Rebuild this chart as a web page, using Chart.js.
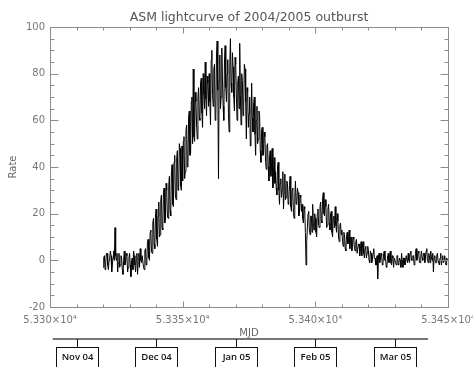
<!DOCTYPE html>
<html>
<head>
<meta charset="utf-8">
<script src="https://cdn.jsdelivr.net/npm/chart.js@4"></script>
<style>
  html, body { margin: 0; padding: 0; background: #fff; }
  #wrap { width: 473px; height: 367px; position: relative; }
</style>
</head>
<body>
<div id="wrap"><canvas id="lc"></canvas></div>
<script>
// ASM 광도곡선 데이터 (0.25일 간격, MJD 53320부터, 한 줄 = 5일)
const mjdStart = 53320;
const mjdStep = 0.25;
const rate = [
  -3, 1, 2, -4, -1, 3, 3, -2, -4, 0, 1, 4, 2, -5, -2, 1, 4, 0, 14, 2,
  0, 3, -5, -1, 3, -3, -2, 2, 1, -4, -6, 0, 4, -2, -1, 3, 2, -5, -3, 1,
  3, -2, -7, 0, 1, -4, 4, 2, -2, -5, 0, 3, -6, -1, 3, -3, 5, 0, -1, 2,
  2, -3, -4, 4, 5, -2, 0, 8, 9, 1, 0, 12, 13, 4, 3, 16, 18, 7, 5, 19,
  22, 9, 6, 19, 25, 10, 11, 26, 28, 14, 13, 29, 31, 16, 17, 33, 30, 19, 18, 32,
  36, 21, 19, 37, 41, 24, 23, 42, 45, 28, 26, 44, 47, 30, 31, 50, 48, 32, 30, 49,
  34, 51, 53, 35, 38, 56, 58, 40, 42, 62, 64, 45, 46, 68, 70, 50, 82, 53, 51, 72,
  68, 58, 52, 70, 74, 61, 60, 76, 78, 63, 57, 80, 71, 65, 85, 69, 62, 79, 76, 66,
  80, 68, 58, 86, 90, 71, 66, 82, 84, 60, 62, 88, 94, 73, 35, 77, 88, 65, 70, 91,
  78, 66, 60, 85, 92, 74, 68, 80, 86, 63, 55, 83, 95, 76, 72, 89, 83, 70, 64, 87,
  84, 70, 60, 76, 79, 65, 93, 71, 58, 80, 77, 62, 66, 84, 82, 68, 52, 74, 72, 57,
  63, 70, 49, 58, 76, 61, 55, 67, 70, 54, 45, 60, 66, 50, 52, 64, 62, 47, 42, 56,
  57, 45, 46, 55, 53, 42, 39, 49, 50, 40, 34, 45, 47, 36, 41, 48, 31, 38, 44, 33,
  38, 31, 28, 40, 42, 30, 24, 33, 35, 27, 30, 38, 22, 29, 37, 26, 27, 34, 33, 24,
  26, 32, 36, 23, 21, 30, 31, 20, 18, 27, 34, 24, 25, 31, 29, 19, 20, 28, 27, 21,
  24, 18, 16, 23, 22, 12, -2, 8, 14, 20, 21, 13, 11, 19, 19, 12, 24, 16, 13, 20,
  18, 12, 10, 20, 22, 15, 14, 23, 25, 17, 16, 27, 29, 20, 19, 26, 23, 14, 15, 22,
  24, 16, 13, 20, 21, 12, 10, 18, 19, 14, 23, 15, 12, 20, 17, 10, 8, 15, 16, 11,
  13, 8, 6, 12, 11, 5, 4, 10, 12, 7, 8, 13, 5, 9, 10, 4, 6, 10, 9, 5,
  4, 8, 9, 3, 3, 7, 7, 2, 5, 8, 2, 6, 8, 3, 1, 5, 6, 1, 3, 6,
  4, 0, -1, 4, 3, -1, 0, 3, 5, 1, 1, -2, -2, 2, -8, 1, 3, -1, 0, 3,
  2, -2, -1, 3, 4, 0, 0, -3, -2, 2, 3, -1, 1, 4, -1, -2, 2, 1, -3, 1,
  1, -1, -2, 2, 2, -2, -1, 1, 0, -3, 3, 0, -3, 1, 1, -2, -1, 2, 2, -1,
  3, 0, -1, 3, 4, 0, 0, 2, 2, -2, -1, 3, 5, 0, 1, 4, 3, -1, -1, 2,
  4, 1, 0, 3, 3, -1, 1, 4, 5, 0, -1, 3, 2, -1, 4, 1, 0, 3, -5, 1,
  2, -1, -1, 2, 3, 0, 0, -2, 1, 3, -2, 0, 2, -1, 0, 2, -1, -2, 1, 0
];

// 축 범위 / 눈금
const xRange = [53300, 53450];
const yRange = [-20, 100];
const xMajor = 50, xMinor = 10;
const yMajor = 20, yMinor = 5;

// 아래 달력 막대
const monthLabels = ['Nov 04', 'Dec 04', 'Jan 05', 'Feb 05', 'Mar 05'];
const monthMJD = [53310, 53340, 53370, 53400, 53430];
const timelineRange = [53301, 53442.5];

const points = rate.map((r, i) => ({ x: mjdStart + i * mjdStep, y: r }));

function fmtMJD(v) {
  return (v / 10000).toFixed(3) + '×10⁴';
}

// 테두리, 안쪽 눈금, 제목, 달력 막대
const framePlugin = {
  id: 'frame',
  afterDraw(chart) {
    const { ctx, chartArea: a, scales: { x, y } } = chart;
    ctx.save();
    ctx.strokeStyle = '#8c8c8c';
    ctx.lineWidth = 1;
    const L = Math.round(a.left) + 0.5, R = Math.round(a.right) + 0.5;
    const T = Math.round(a.top) + 0.5, B = Math.round(a.bottom) + 0.5;
    ctx.strokeRect(L, T, R - L, B - T);

    ctx.beginPath();
    for (let v = xRange[0]; v <= xRange[1]; v += xMinor) {
      const px = Math.round(x.getPixelForValue(v)) + 0.5;
      const major = v % xMajor === 0;
      ctx.moveTo(px, B); ctx.lineTo(px, B - (major ? 6 : 3));
      ctx.moveTo(px, T); ctx.lineTo(px, T + (major ? 6 : 3));
    }
    for (let v = yRange[0]; v <= yRange[1]; v += yMinor) {
      const py = Math.round(y.getPixelForValue(v)) + 0.5;
      const major = v % yMajor === 0;
      ctx.moveTo(L, py); ctx.lineTo(L + (major ? 8 : 4), py);
      ctx.moveTo(R, py); ctx.lineTo(R - (major ? 8 : 4), py);
    }
    ctx.stroke();

    // 제목
    ctx.fillStyle = '#555';
    ctx.font = '12.5px "DejaVu Sans"';
    ctx.textAlign = 'center';
    ctx.textBaseline = 'alphabetic';
    ctx.fillText('ASM lightcurve of 2004/2005 outburst', (a.left + a.right) / 2, 21);

    // 축 이름
    ctx.font = '10px "DejaVu Sans"';
    ctx.fillStyle = '#666';
    ctx.textBaseline = 'middle';
    ctx.fillText('MJD', (a.left + a.right) / 2, 333);
    ctx.save();
    ctx.translate(13, 167);
    ctx.rotate(-Math.PI / 2);
    ctx.fillText('Rate', 0, 0);
    ctx.restore();

    // 달력 막대
    const ly = 339;
    ctx.strokeStyle = '#777';
    ctx.lineWidth = 2;
    ctx.beginPath();
    ctx.moveTo(x.getPixelForValue(timelineRange[0]), ly);
    ctx.lineTo(x.getPixelForValue(timelineRange[1]), ly);
    ctx.stroke();

    ctx.strokeStyle = '#111';
    ctx.lineWidth = 1;
    ctx.fillStyle = '#111';
    ctx.font = '600 9.5px "Open Sans"';
    monthMJD.forEach((m, i) => {
      const px = Math.round(x.getPixelForValue(m)) + 0.5;
      ctx.beginPath();
      ctx.moveTo(px, ly); ctx.lineTo(px, 347.5);
      ctx.stroke();
      ctx.strokeRect(px - 21, 347.5, 42, 30);
      ctx.fillText(monthLabels[i], px, 357.5);
    });
    ctx.restore();
  }
};

new Chart(document.getElementById('lc'), {
  type: 'line',
  data: {
    datasets: [{
      data: points,
      borderColor: '#000',
      borderWidth: 1,
      pointRadius: 0,
      tension: 0,
      fill: false
    }]
  },
  options: {
    responsive: true,
    maintainAspectRatio: false,
    animation: false,
    layout: { padding: { top: 27, right: 25, left: 0, bottom: 0 } },
    plugins: { legend: { display: false }, tooltip: { enabled: false } },
    scales: {
      x: {
        type: 'linear',
        min: xRange[0],
        max: xRange[1],
        grid: { display: false, drawTicks: false },
        border: { display: false },
        ticks: {
          stepSize: xMajor,
          padding: 7,
          maxRotation: 0,
          color: '#777',
          font: { family: 'DejaVu Sans', size: 10 },
          callback: v => fmtMJD(v)
        },
        afterFit: s => { s.height = 60; s.paddingLeft = 0; s.paddingRight = 0; }
      },
      y: {
        min: yRange[0],
        max: yRange[1],
        grid: { display: false, drawTicks: false },
        border: { display: false },
        ticks: {
          stepSize: yMajor,
          padding: 5,
          color: '#777',
          font: { family: 'DejaVu Sans', size: 10 }
        },
        afterFit: s => { s.width = 50; }
      }
    }
  },
  plugins: [framePlugin]
});
</script>
</body>
</html>
